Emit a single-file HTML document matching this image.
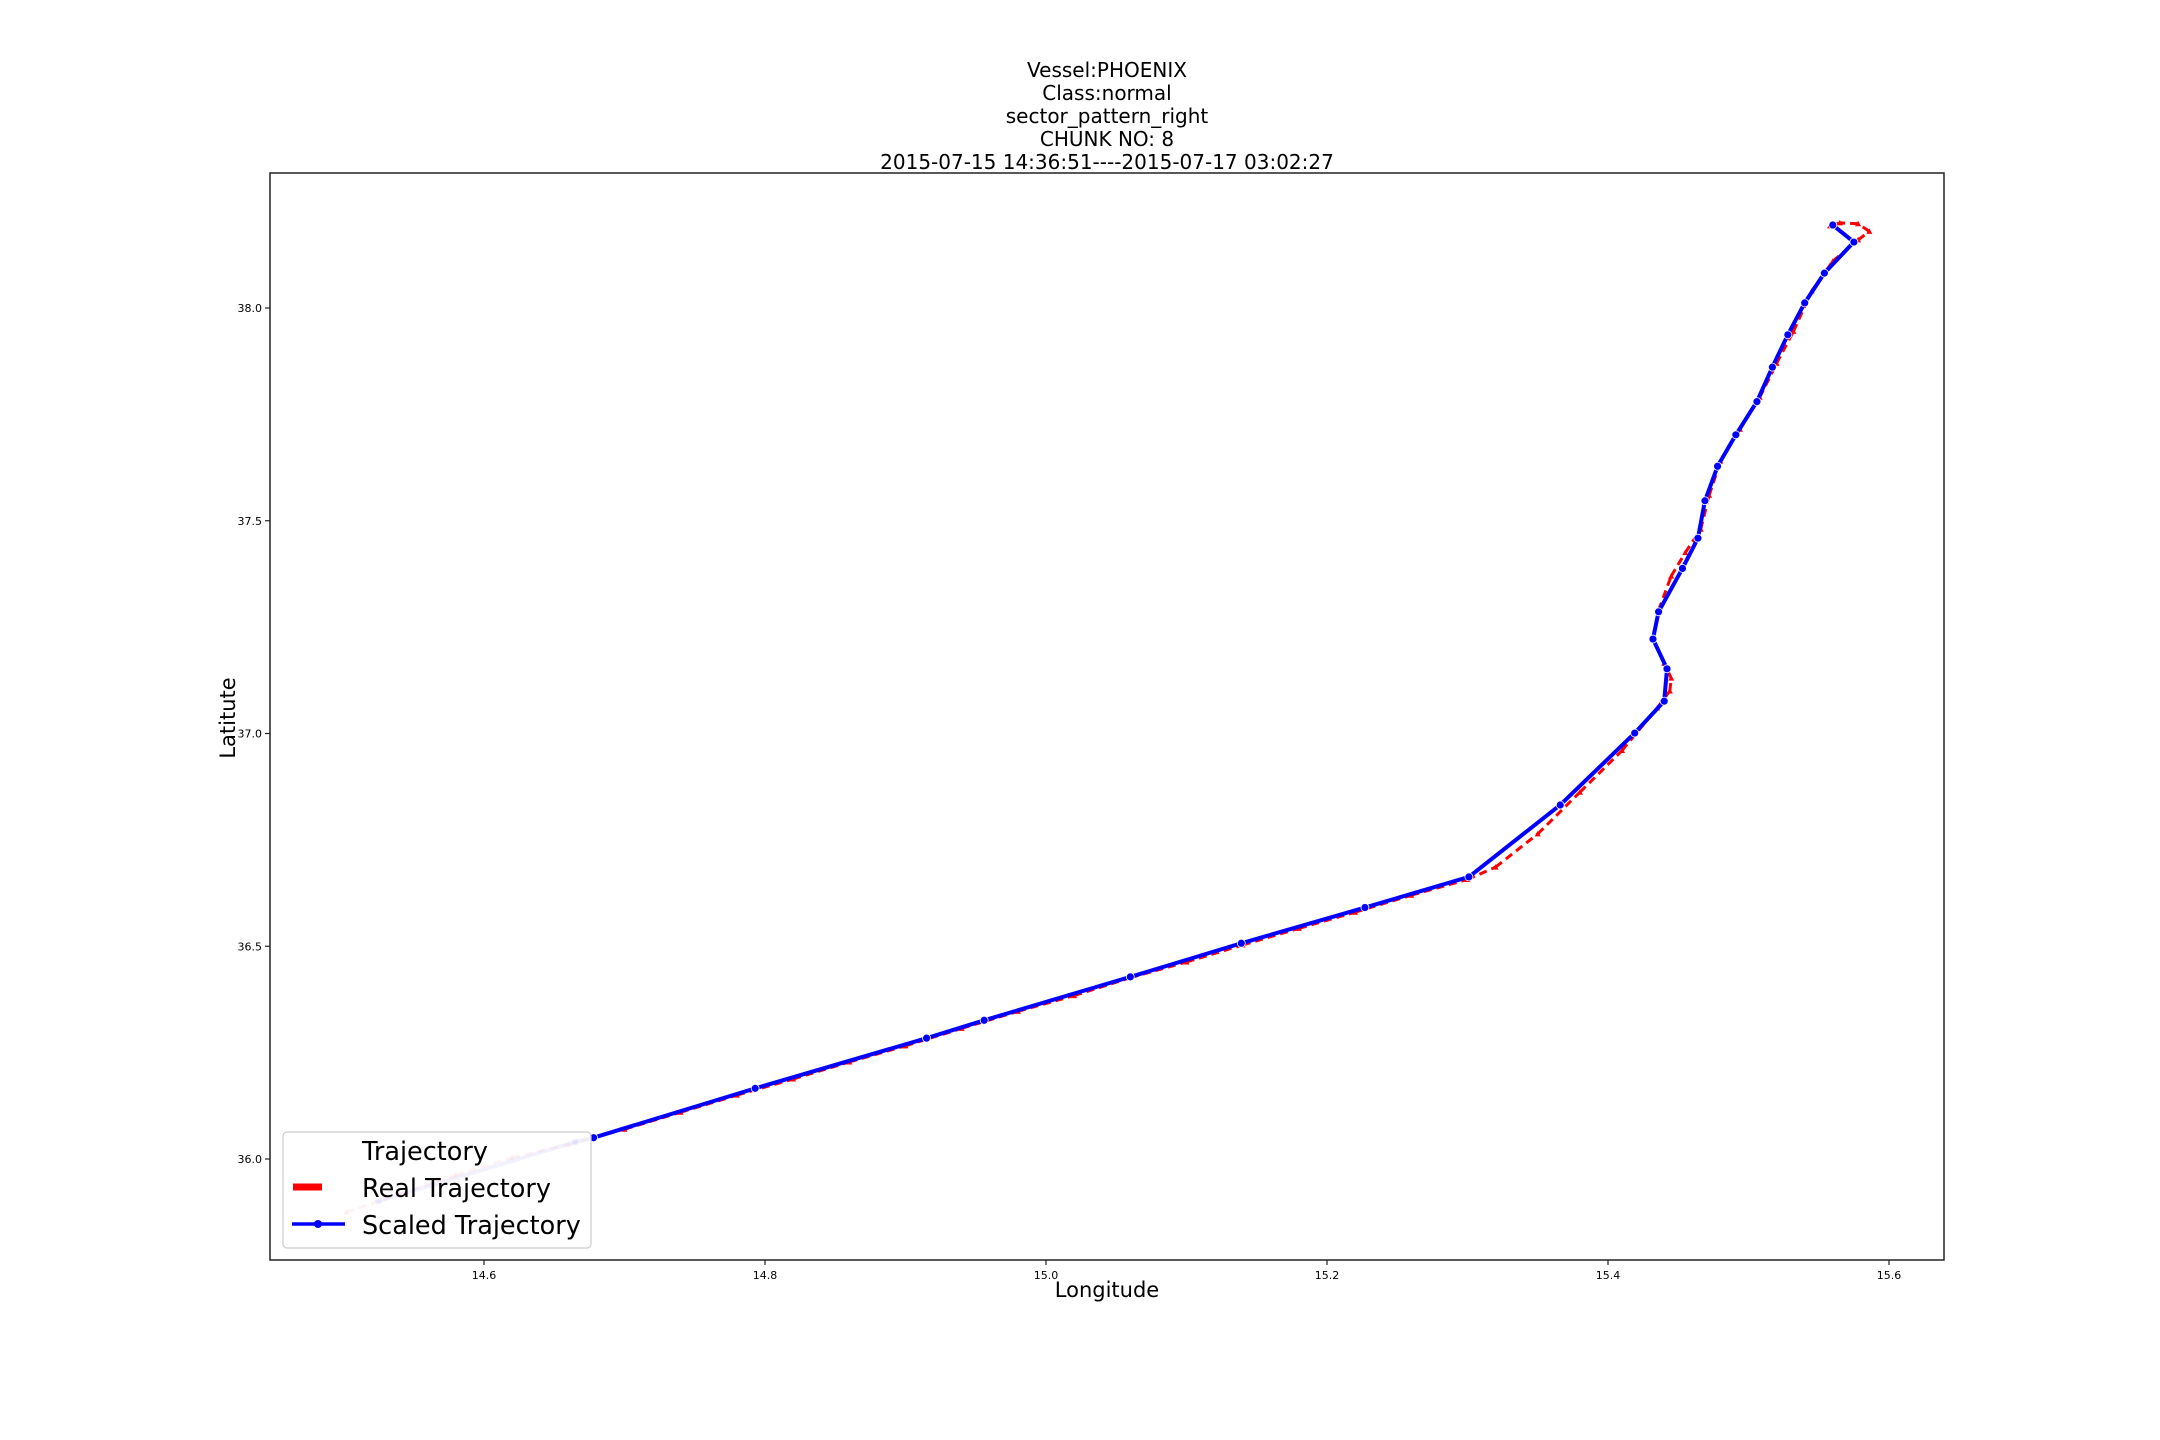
<!DOCTYPE html>
<html><head><meta charset="utf-8"><style>
body{margin:0;background:#fff;}
svg{display:block;font-family:"DejaVu Sans","Liberation Sans",sans-serif;}
</style></head><body>
<svg id="chart" width="2160" height="1440" viewBox="0 0 2160 1440">
<g font-size="20" text-anchor="middle" fill="#000">
<text x="1107" y="77">Vessel:PHOENIX</text>
<text x="1107" y="100">Class:normal</text>
<text x="1107" y="123">sector_pattern_right</text>
<text x="1107" y="146">CHUNK NO: 8</text>
<text x="1107" y="169">2015-07-15 14:36:51----2015-07-17 03:02:27</text>
</g>
<rect x="270" y="173" width="1674" height="1087" fill="none" stroke="#222" stroke-width="1.5"/>
<g id="xticks"></g>
<g id="yticks"></g>
<g id="real"></g>
<g id="scaled"></g>
<text x="1107" y="1297" font-size="21" text-anchor="middle">Longitude</text>
<text x="0" y="0" font-size="21" text-anchor="middle" transform="translate(235,718) rotate(-90)">Latitute</text>
<g>
<rect x="283" y="1132" width="308" height="116" rx="4" fill="#fff" fill-opacity="0.8" stroke="#ccc" stroke-width="1.2"/>
<text x="362" y="1160" font-size="25.5">Trajectory</text>
<line x1="293" y1="1187" x2="322" y2="1187" stroke="#f00" stroke-width="7"/>
<text x="362" y="1197" font-size="25.5">Real Trajectory</text>
<line x1="292" y1="1224" x2="345" y2="1224" stroke="#00f" stroke-width="3.5"/>
<circle cx="318" cy="1224" r="4" fill="#00f"/>
<text x="362" y="1234" font-size="25.5">Scaled Trajectory</text>
</g>
</svg>
<script>
const xTicks=[14.6,14.8,15.0,15.2,15.4,15.6];
const yTicks=[36.0,36.5,37.0,37.5,38.0];
const scaledLon=[14.525,14.665,14.678,14.793,14.915,14.956,15.060,15.139,15.227,15.301,15.366,15.419,15.440,15.442,15.432,15.436,15.453,15.464,15.469,15.478,15.491,15.506,15.517,15.528,15.540,15.554,15.575,15.560];
const scaledLat=[35.901,36.040,36.050,36.166,36.284,36.326,36.428,36.507,36.591,36.663,36.832,37.001,37.076,37.152,37.222,37.286,37.388,37.459,37.547,37.628,37.702,37.780,37.861,37.937,38.012,38.082,38.155,38.195];
const realLon=[14.502,14.54,14.58,14.62,14.66,14.70,14.74,14.78,14.82,14.86,14.90,14.94,14.98,15.02,15.06,15.10,15.14,15.18,15.22,15.26,15.30,15.32,15.35,15.38,15.41,15.435,15.444,15.445,15.440,15.432,15.436,15.445,15.455,15.466,15.472,15.480,15.494,15.508,15.520,15.532,15.545,15.560,15.578,15.586,15.578,15.565,15.558];
const realLat=[35.875,35.918,35.962,36.003,36.034,36.070,36.110,36.150,36.188,36.228,36.266,36.307,36.347,36.384,36.426,36.463,36.503,36.542,36.580,36.620,36.657,36.686,36.764,36.862,36.960,37.060,37.100,37.130,37.165,37.225,37.290,37.370,37.425,37.480,37.560,37.640,37.715,37.790,37.870,37.945,38.040,38.110,38.160,38.180,38.198,38.200,38.193];
const X0=14.6,PX0=484,SX=1405, Y0=36.0,PY0=1159,SY=425.5;
function sx(v){return PX0+(v-X0)*SX;}
function sy(v){return PY0-(v-Y0)*SY;}
const NS='http://www.w3.org/2000/svg';
function mk(t,a,p){const e=document.createElementNS(NS,t);for(const k in a)e.setAttribute(k,a[k]);p.appendChild(e);return e;}
const gx=document.getElementById('xticks');
xTicks.forEach(v=>{
 const l=mk('line',{x1:sx(v),x2:sx(v),y1:1260,y2:1265,stroke:'#222','stroke-width':1.2},gx);
 
 
 const t=mk('text',{x:sx(v),y:1279,'font-size':11,'text-anchor':'middle'},gx);
 
 
 t.textContent=v.toFixed(1);
});
const gy=document.getElementById('yticks');
yTicks.forEach(v=>{
 const l=mk('line',{x1:265,x2:270,y1:sy(v),y2:sy(v),stroke:'#222','stroke-width':1.2},gy);
 
 
 const t=mk('text',{x:262,y:sy(v)+4,'font-size':11,'text-anchor':'end'},gy);
 
 
 t.textContent=v.toFixed(1);
});
function alphaFor(lon){return lon<14.67?0.25:1;}
const gr=document.getElementById('real');
for(let i=0;i<realLon.length-1;i++){
 const s=mk('line',{x1:sx(realLon[i]),y1:sy(realLat[i]),x2:sx(realLon[i+1]),y2:sy(realLat[i+1]),stroke:'#f00','stroke-width':3,'stroke-dasharray':'8 5',opacity:alphaFor(realLon[i])},gr);
 
 
}
for(let i=0;i<realLon.length;i++){
 const x=sx(realLon[i]),y=sy(realLat[i]);
 const p=mk('polygon',{points:`${x},${y-3} ${x-3},${y+2.5} ${x+3},${y+2.5}`,fill:'#f00',opacity:alphaFor(realLon[i])},gr);
 
 
}
const gs=document.getElementById('scaled');
for(let i=0;i<scaledLon.length-1;i++){
 const s=mk('line',{x1:sx(scaledLon[i]),y1:sy(scaledLat[i]),x2:sx(scaledLon[i+1]),y2:sy(scaledLat[i+1]),stroke:'#00f','stroke-width':4,'stroke-linecap':'round',opacity:alphaFor(scaledLon[i])},gs);
 
 
}
for(let i=0;i<scaledLon.length;i++){
 const c=mk('circle',{cx:sx(scaledLon[i]),cy:sy(scaledLat[i]),r:4,fill:'#00f',stroke:'#fff','stroke-width':0.8,opacity:alphaFor(scaledLon[i])},gs);
 
 
}
</script>
</body></html>
